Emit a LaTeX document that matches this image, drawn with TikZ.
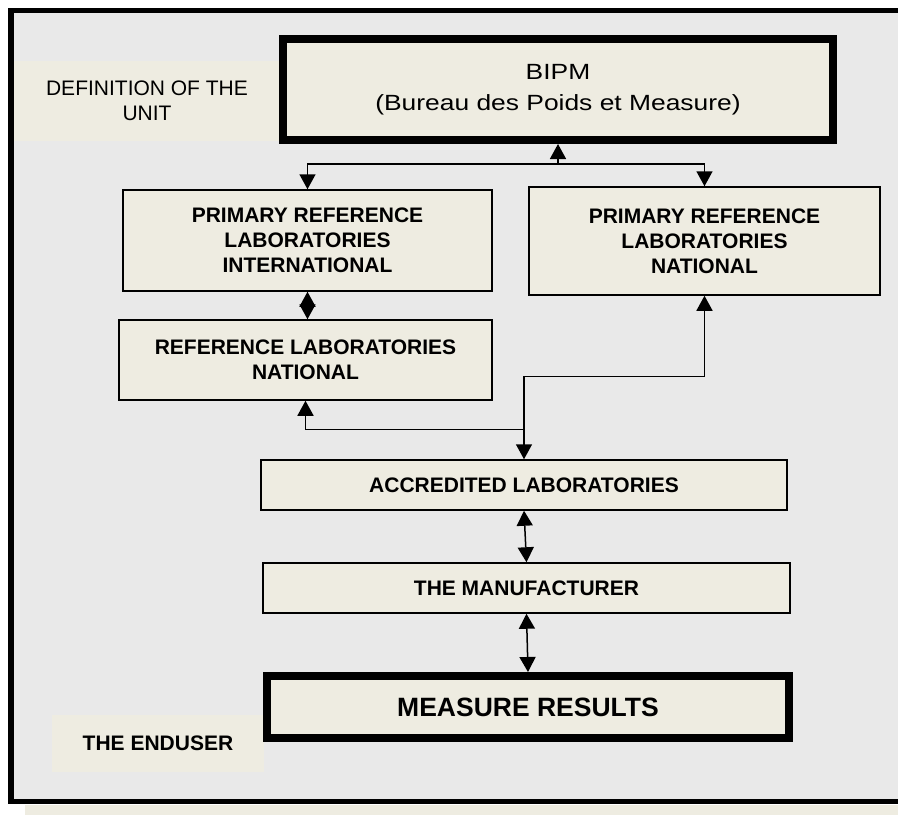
\documentclass[tikz,border=0pt]{standalone}
\usepackage{fontspec}
\setmainfont{Liberation Sans}
\usepackage{graphicx}
\usepackage{tikz}
\usetikzlibrary{arrows.meta,calc}
\definecolor{panel}{HTML}{E9E9E9}
\definecolor{paper}{HTML}{EEECE1}

\begin{document}
\begin{tikzpicture}[x=1pt,y=-1pt,line width=1.5pt,
    box/.style={draw, fill=paper, line width=1.5pt, inner sep=0pt, align=center, font=\fontsize{21}{25}\selectfont\bfseries},
    bigbox/.style={box, line width=8pt},
    tag/.style={fill=paper, inner sep=0pt, align=center, font=\fontsize{21}{25}\selectfont},
    >={Triangle[width=16pt,length=15pt]}]
            \useasboundingbox (0,0) rectangle (898,815);
            \fill[white] (0,0) rectangle (898,815);
            \fill[paper] (25,805) rectangle (898,815);
            \fill[panel] (11,10.5) rectangle (898,801.5);
            \draw[line width=5.5pt] (898,10.5) -- (11,10.5) -- (11,801.5) -- (898,801.5);
            \node[tag, minimum width=266pt, minimum height=80pt] (unit) at (147,101) {DEFINITION OF THE\\UNIT};
            \node[bigbox, font=\fontsize{22}{31}\selectfont, minimum width=550pt, minimum height=101pt] (bipm) at (558,89.5) {\scalebox{1.2}[1]{BIPM}\\\scalebox{1.2}[1]{(Bureau des Poids et Measure)}};
            \node[box, minimum width=369pt, minimum height=101pt] (pri) at (307.5,240.5) {PRIMARY REFERENCE\\LABORATORIES\\INTERNATIONAL};
            \node[box, minimum width=351pt, minimum height=108pt] (prn) at (704.5,241) {PRIMARY REFERENCE\\LABORATORIES\\NATIONAL};
            \node[box, minimum width=373pt, minimum height=80pt] (ref) at (305.5,360) {REFERENCE LABORATORIES\\NATIONAL};
            \node[box, minimum width=526pt, minimum height=50pt] (acc) at (524,485) {ACCREDITED LABORATORIES};
            \node[box, minimum width=527pt, minimum height=50pt] (maker) at (526.5,588) {THE MANUFACTURER};
            \node[tag, font=\fontsize{21}{25}\selectfont\bfseries, minimum width=212pt, minimum height=57pt] (user) at (158,743.5) {THE ENDUSER};
            \node[bigbox, font=\fontsize{26.5}{30}\selectfont\bfseries, minimum width=522pt, minimum height=62pt] (result) at (528,707) {MEASURE RESULTS};
            \coordinate (top) at ($(bipm.south)+(0,20)$);
            \coordinate (split) at ($(acc.north)+(0,-83)$);
            \coordinate (join) at ($(acc.north)+(0,-30)$);
            \draw[<-] (bipm.south) -- (top);
            \draw[->] (top) -| (pri.north);
            \draw[->] (top) -| (prn.north);
            \draw[<->] (pri.south) -- (pri.south |- ref.north);
            \draw[->] (split) -- (acc.north);
            \draw[->] (split) -| (prn.south);
            \draw[->] (join) -| (ref.south);
            \draw[<->] (acc.south) -- (maker.north);
            \draw[<->] (maker.south) -- (result.north);
        \end{tikzpicture}
\end{document}
